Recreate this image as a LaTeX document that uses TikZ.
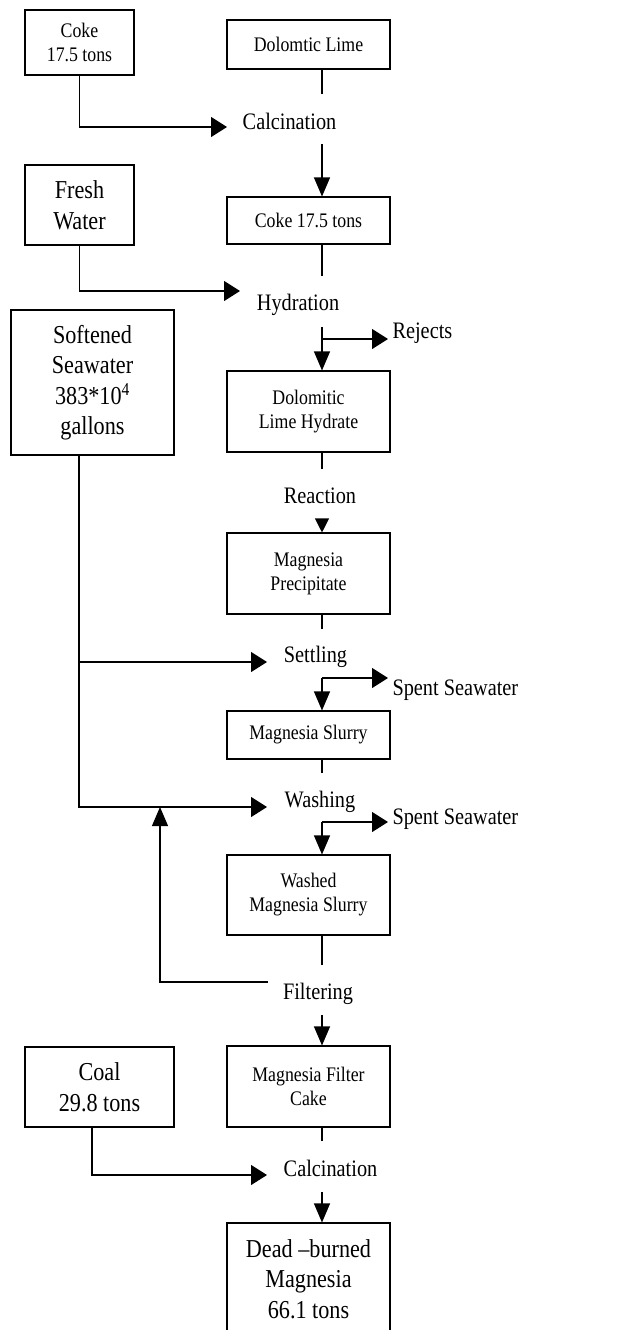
\documentclass[tikz,border=0pt]{standalone}
\usepackage{fontspec}
\setmainfont{Liberation Serif}[FakeStretch=0.86]
\usetikzlibrary{arrows.meta}
\newcommand\fsmall{\fontsize{20.7}{24}\selectfont}
\newcommand\flab{\fontsize{23.6}{27}\selectfont}
\newcommand\fbig{\fontsize{25.8}{30.5}\selectfont}
\tikzset{
  box/.style={draw, line width=1.1pt, minimum width=163pt, inner sep=2pt, align=center, font=\fsmall},
  bigbox/.style={box, font=\fbig},
  lab/.style={inner sep=0pt, font=\flab},
  harr/.style={-{Triangle[length=16pt,width=20pt]}},
  varr/.style={-{Triangle[length=19pt,width=16pt]}},
  sarr/.style={-{Triangle[length=14pt,width=14pt]}},
}
\begin{document}
\begin{tikzpicture}[x=1pt,y=-1pt,line width=1.1pt]
\clip (0,0) rectangle (619,1330);
% boxes
\node[box, minimum width=109pt, minimum height=65pt] (coke) at (79.5,42.5) {Coke\\17.5 tons};
\node[box, minimum height=49pt] (dolo) at (308.5,44.5) {Dolomtic Lime};
\node[bigbox, minimum width=109pt, minimum height=80pt] (fresh) at (79.5,205) {Fresh\\Water};
\node[box, minimum height=47pt] (coke2) at (308.5,220.5) {Coke 17.5 tons};
\node[bigbox, minimum height=145pt] (soft) at (92.5,382.5) {Softened\\Seawater\\383*10\textsuperscript{4}\\gallons};
\node[box, minimum height=81pt] (dlh) at (308.5,411.5) {Dolomitic\\Lime Hydrate};
\node[box, minimum height=81pt] (mp) at (308.5,573.5) {Magnesia\\Precipitate};
\node[box, minimum height=48pt] (ms) at (308.5,735) {Magnesia Slurry};
\node[box, minimum height=80pt] (wms) at (308.5,895) {Washed\\Magnesia Slurry};
\node[box, minimum height=81pt] (mfc) at (308.5,1086.5) {Magnesia Filter\\Cake};
\node[bigbox, minimum width=149pt, minimum height=80pt] (coal) at (99.5,1087) {Coal\\29.8 tons};
\node[bigbox, minimum height=112pt] (dead) at (308.5,1279) {Dead --burned\\Magnesia\\66.1 tons};
% process labels
\node[lab, anchor=base] (calc1) at (289.5,129) {Calcination};
\node[lab, anchor=base] (hydr) at (298,310) {Hydration};
\node[lab, anchor=base west] (rejects) at (392,338) {Rejects};
\node[lab, anchor=base] (react) at (320,503) {Reaction};
\node[lab, anchor=base] (settl) at (315.5,662) {Settling};
\node[lab, anchor=base west] (spent1) at (392,695) {Spent Seawater};
\node[lab, anchor=base] (wash) at (320,807) {Washing};
\node[lab, anchor=base west] (spent2) at (392,824) {Spent Seawater};
\node[lab, anchor=base] (filt) at (318,999) {Filtering};
\node[lab, anchor=base] (calc2) at (330.5,1176) {Calcination};
% connector points
\coordinate (c1in) at (227,127);
\coordinate (c1top) at (322,94);
\coordinate (c1bot) at (322,144);
\coordinate (htop) at (322,276);
\coordinate (hin) at (240,291);
\coordinate (hbot) at (322,327);
\coordinate (hbr) at (322,339);
\coordinate (rjin) at (388,339);
\coordinate (rtop) at (322,469);
\coordinate (rbot) at (322,519);
\coordinate (stop) at (322,629);
\coordinate (swfork) at (79,662);
\coordinate (sin) at (267,662);
\coordinate (sbr) at (322,678);
\coordinate (s1in) at (388,678);
\coordinate (wtop) at (322,773);
\coordinate (win) at (267,807);
\coordinate (wbr) at (322,822);
\coordinate (s2in) at (388,822);
\coordinate (ftop) at (322,965);
\coordinate (fout) at (268,982);
\coordinate (fret) at (160,807);
\coordinate (fbot) at (322,1015);
\coordinate (c2top) at (322,1141);
\coordinate (coalx) at (92,1175);
\coordinate (c2in) at (267,1175);
\coordinate (c2bot) at (322,1192);
% connectors
\draw[harr] (coke.south) |- (c1in);
\draw (dolo.south -| c1top) -- (c1top);
\draw[varr] (c1bot) -- (c1bot |- coke2.north);
\draw (coke2.south -| htop) -- (htop);
\draw[harr] (fresh.south) |- (hin);
\draw[varr] (hbot) -- (hbot |- dlh.north);
\draw[harr] (hbr) -- (rjin);
\draw (dlh.south -| rtop) -- (rtop);
\draw[sarr] (rbot) -- (rbot |- mp.north);
\draw (mp.south -| stop) -- (stop);
\draw[harr] (swfork) -- (sin);
\draw[harr] (soft.south -| swfork) |- (win);
\draw[varr] (sbr) -- (sbr |- ms.north);
\draw[harr] (sbr) -- (s1in);
\draw (ms.south -| wtop) -- (wtop);
\draw[varr] (wbr) -- (wbr |- wms.north);
\draw[harr] (wbr) -- (s2in);
\draw (wms.south -| ftop) -- (ftop);
\draw[varr] (fout) -| (fret);
\draw[varr] (fbot) -- (fbot |- mfc.north);
\draw (mfc.south -| c2top) -- (c2top);
\draw[harr] (coal.south -| coalx) -- (coalx) -- (c2in);
\draw[varr] (c2bot) -- (c2bot |- dead.north);
\end{tikzpicture}
\end{document}
